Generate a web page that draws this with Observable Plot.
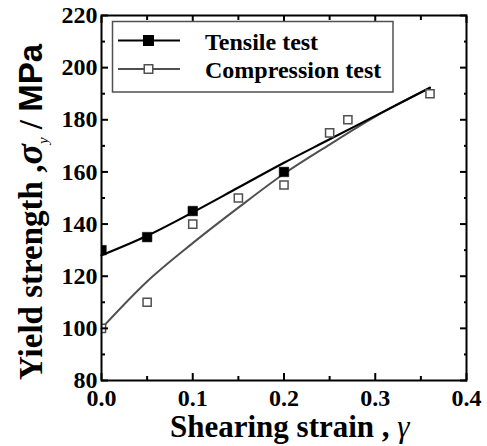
<!DOCTYPE html>
<html><head><meta charset="utf-8">
<script src="https://cdn.jsdelivr.net/npm/d3@7"></script>
<script src="https://cdn.jsdelivr.net/npm/@observablehq/plot@0.6"></script>
<style>
html,body{margin:0;padding:0;background:#fff}
#chart{width:487px;height:446px}
#chart svg text{font-family:"Liberation Serif",serif !important;}
</style>
</head><body><div id="chart"></div>
<script>
// Measured points
const tensileStrain = [0, 0.05, 0.1, 0.2];
const tensileStress = [130, 135, 145, 160];
const compStrain = [0, 0.05, 0.1, 0.15, 0.2, 0.25, 0.27, 0.36];
const compStress = [100, 110, 140, 150, 155, 175, 180, 190];
// Fitted curves
const tensileFitStrain = [0, 0.05, 0.1, 0.15, 0.2, 0.25, 0.3, 0.36];
const tensileFitStress = [128, 135.5, 144.5, 154, 163.5, 172.5, 181.5, 192.3];
const compFitStrain = [0, 0.05, 0.1, 0.15, 0.2, 0.25, 0.3, 0.36];
const compFitStress = [100, 118, 132.7, 146.3, 159.3, 170.5, 181.2, 192.3];
// Axis ticks
const xTicks = [0, 0.1, 0.2, 0.3, 0.4];
const xMinor = [0.05, 0.15, 0.25, 0.35];
const yTicks = [80, 100, 120, 140, 160, 180, 200, 220];
const yMinor = [90, 110, 130, 150, 170, 190, 210];
const seriesNames = ["Tensile test", "Compression test"];

const toRows = (xs, ys) => xs.map((x, i) => ({x, y: ys[i]}));
const tensile = toRows(tensileStrain, tensileStress);
const comp = toRows(compStrain, compStress);
const tensileFit = toRows(tensileFitStrain, tensileFitStress);
const compFit = toRows(compFitStrain, compFitStress);

const GRAY = "#505050";
const serif = "Liberation Serif";
const tk = {fill: "none", stroke: "#000", strokeWidth: 2, label: null};
const lbl = {fontSize: 24, fontWeight: "bold", fontFamily: serif, fill: "#000", label: null, tickSize: 0};

const plot = Plot.plot({
  width: 487, height: 446,
  marginLeft: 101, marginRight: 21, marginTop: 15, marginBottom: 66,
  x: {domain: [0, 0.4]},
  y: {domain: [80, 220]},
  style: {background: "#fff", color: "#000", fontFamily: serif},
  marks: [
    Plot.line(compFit, {x: "x", y: "y", curve: "monotone-x", stroke: GRAY, strokeWidth: 2}),
    Plot.line(tensileFit, {x: "x", y: "y", curve: "monotone-x", stroke: "#000", strokeWidth: 2.2}),
    Plot.dot(comp, {x: "x", y: "y", symbol: "square", r: 4.6, fill: "#fff", stroke: GRAY, strokeWidth: 1.5, clip: true}),
    Plot.dot(tensile, {x: "x", y: "y", symbol: "square", r: 5.4, fill: "#000", stroke: "#000", strokeWidth: 0.5, clip: true}),
    Plot.axisX(xTicks, {...tk, anchor: "bottom", tickSize: -7}),
    Plot.axisX(xMinor, {...tk, anchor: "bottom", tickSize: -4}),
    Plot.axisX(xTicks, {...tk, anchor: "top", tickSize: -7}),
    Plot.axisX(xMinor, {...tk, anchor: "top", tickSize: -4}),
    Plot.axisY(yTicks, {...tk, anchor: "left", tickSize: -7}),
    Plot.axisY(yMinor, {...tk, anchor: "left", tickSize: -4}),
    Plot.axisY(yTicks, {...tk, anchor: "right", tickSize: -7}),
    Plot.axisY(yMinor, {...tk, anchor: "right", tickSize: -3}),
    Plot.axisX(xTicks, {...lbl, anchor: "bottom", tickPadding: 8, tickFormat: d => d.toFixed(1)}),
    Plot.axisY(yTicks, {...lbl, anchor: "left", tickPadding: 4, tickFormat: d => String(d)}),
    Plot.frame({stroke: "#000", strokeWidth: 2})
  ]
});
document.getElementById("chart").appendChild(plot);

const svg = d3.select(plot);
// Legend
const lg = svg.append("g");
lg.append("rect").attr("x", 112.5).attr("y", 21.5).attr("width", 280.5).attr("height", 70.5)
  .attr("fill", "#fff").attr("stroke", GRAY).attr("stroke-width", 1.5);
const legendRows = [
  {name: seriesNames[0], y: 40.5, stroke: "#000", fill: "#000", size: 9.5, tb: 50},
  {name: seriesNames[1], y: 69, stroke: GRAY, fill: "#fff", size: 8.5, tb: 78}
];
legendRows.forEach(r => {
  lg.append("line").attr("x1", 118).attr("x2", 180).attr("y1", r.y).attr("y2", r.y)
    .attr("stroke", r.stroke).attr("stroke-width", 2);
  lg.append("rect").attr("x", 148.5 - r.size / 2).attr("y", r.y - r.size / 2)
    .attr("width", r.size).attr("height", r.size).attr("fill", r.fill)
    .attr("stroke", r.stroke).attr("stroke-width", 1.5);
  lg.append("text").attr("x", 205).attr("y", r.tb).attr("text-anchor", "start")
    .attr("font-weight", "bold").attr("font-size", 24).attr("fill", "#000").text(r.name);
});

// X title
const xt = svg.append("text").attr("x", 170).attr("y", 437).attr("text-anchor", "start")
  .attr("font-weight", "bold").attr("font-size", 31).attr("fill", "#000");
xt.append("tspan").text("Shearing strain , ");
xt.append("tspan").attr("font-style", "italic").attr("font-weight", "normal").text("γ");

// Y title
const yt = svg.append("text").attr("transform", "translate(42,380) rotate(-90)").attr("text-anchor", "start")
  .attr("font-weight", "bold").attr("font-size", 33).attr("fill", "#000");
yt.append("tspan").text("Yield strength ,");
yt.append("tspan").attr("font-style", "italic").attr("font-size", 38).text("σ");
yt.append("tspan").attr("font-size", 15).attr("font-style", "italic").attr("font-weight", "normal").attr("dy", 6).text("y");
yt.append("tspan").attr("dy", -6).text(" / ");
yt.append("tspan").style("font-family", "'Liberation Sans', sans-serif", "important").attr("font-size", 33).text("MPa");
</script>
</body></html>
